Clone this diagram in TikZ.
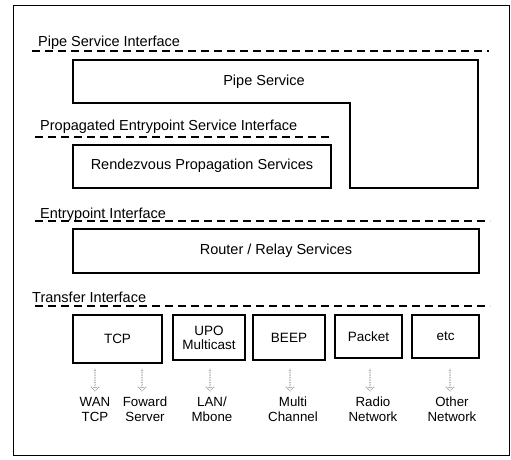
\documentclass[tikz,border=0pt]{standalone}
\usepackage{fontspec}
\setmainfont{Liberation Sans}
\usetikzlibrary{shapes.arrows}
\begin{document}
\begin{tikzpicture}[x=1pt,y=-1pt,
  layerbox/.style={draw,line width=1.4pt},
  iface/.style={draw,line width=1.3pt,dash pattern=on 8pt off 5pt},
  ilabel/.style={anchor=base west,inner sep=0pt,font=\fontsize{14.5}{16}\selectfont},
  btxt/.style={inner sep=0pt,font=\fontsize{14.5}{16}\selectfont},
  small/.style={layerbox,inner sep=0pt,align=center,font=\fontsize{13.5}{14}\selectfont},
  netlbl/.style={inner sep=0pt,align=center,font=\fontsize{13.3}{15}\selectfont},
  flow/.style={single arrow,draw=black!45,densely dotted,line width=0.7pt,
    minimum height=22pt,minimum width=7pt,single arrow head extend=4pt,
    single arrow head indent=1pt,shape border rotate=270,inner sep=0pt}]
\useasboundingbox (0,0) rectangle (511,459);
% outer frame
\draw[line width=0.8pt] (13,5) rectangle (509,455);

% interface lines and their captions
\node[ilabel] (psi) at (38,46) {Pipe Service Interface};
\draw[iface] (32,51) -- (489,51);
\node[ilabel] (pesi) at (40,130) {Propagated Entrypoint Service Interface};
\draw[iface] (35,137) -- (332,137);
\node[ilabel] (epi) at (40,218) {Entrypoint Interface};
\draw[iface] (35,221) -- (490,221);
\node[ilabel] (tri) at (32,302) {Transfer Interface};
\draw[iface] (35,306) -- (490,306);

% pipe service (L-shaped)
\draw[layerbox] (73,60) -- (478,60) -- (478,188) -- (350,188) -- (350,103) -- (73,103) -- cycle;
\node[btxt] (pipe) at (264,82) {Pipe Service};

% rendezvous propagation
\draw[layerbox] (73,145) rectangle (331,188);
\node[btxt] (rdv) at (202,166) {Rendezvous Propagation Services};

% router / relay
\draw[layerbox] (73,229) rectangle (479,273);
\node[btxt] (rr) at (276,251) {Router / Relay Services};

% transports
\node[small,minimum width=89pt,minimum height=48pt] (tcp) at (117.5,339) {TCP};
\node[small,minimum width=72pt,minimum height=45pt] (upo) at (209,337.5) {UPO\\Multicast};
\node[small,minimum width=72pt,minimum height=45pt] (beep) at (289,337.5) {BEEP};
\node[small,minimum width=67pt,minimum height=43pt] (pkt) at (368.5,336.5) {Packet};
\node[small,minimum width=67pt,minimum height=43pt] (etc) at (445.5,336.5) {etc};

% networks
\node[netlbl] (wan) at (95,409) {WAN\\TCP};
\node[netlbl] (fwd) at (145,409) {Foward\\Server};
\node[netlbl] (lan) at (212,409) {LAN/\\Mbone};
\node[netlbl] (mch) at (293,409) {Multi\\Channel};
\node[netlbl] (rad) at (373,409) {Radio\\Network};
\node[netlbl] (oth) at (452,409) {Other\\Network};

% hollow dotted arrows down to the networks
\foreach \n/\x in {wan/95,fwd/142,lan/210,mch/290,rad/370,oth/450}
  \node[flow] (a\n) at (\x,380) {};
\end{tikzpicture}
\end{document}
